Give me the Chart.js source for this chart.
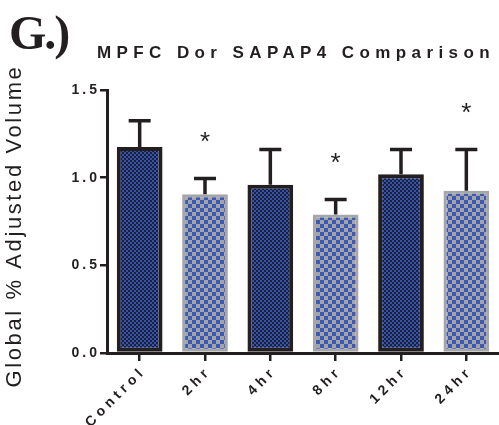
<!DOCTYPE html>
<html>
<head>
<meta charset="utf-8">
<script src="https://cdn.jsdelivr.net/npm/chart.js@4.4.1/dist/chart.umd.min.js"></script>
<style>
  body { margin: 0; background: #fff; }
  canvas { display: block; }
</style>
</head>
<body>
<canvas id="myChart" width="499" height="425"></canvas>
<script>
// data
const groups = ['Control', '2hr', '4hr', '8hr', '12hr', '24hr'];
const means = [1.175, 0.905, 0.96, 0.79, 1.02, 0.925];
const sem = [0.15, 0.09, 0.20, 0.085, 0.14, 0.235];
const sig = [false, true, false, true, false, true];
const yTicks = [0, 0.5, 1.0, 1.5];

const ink = '#231f20';

// checker fills
function checker(c1, c2, s) {
  const cv = document.createElement('canvas');
  cv.width = cv.height = s * 2;
  const g = cv.getContext('2d');
  g.fillStyle = c1; g.fillRect(0, 0, s * 2, s * 2);
  g.fillStyle = c2; g.fillRect(0, 0, s, s); g.fillRect(s, s, s, s);
  return g.createPattern(cv, 'repeat');
}
const darkFill = checker('#1e2036', '#3352ae', 2);
const lightFill = checker('#a4a4a8', '#3a5ab6', 4);

const fills = groups.map((g, i) => i % 2 ? lightFill : darkFill);
const borders = groups.map((g, i) => i % 2 ? '#a6a6a9' : ink);
const bw = groups.map((g, i) => i % 2 ? 3 : 4);

//text, error bars and stars
const decor = {
  id: 'decor',
  afterDatasetsDraw(chart) {
    const ctx = chart.ctx;
    const y = chart.scales.y;
    const meta = chart.getDatasetMeta(0);
    ctx.save();
    ctx.strokeStyle = ink;
    ctx.fillStyle = ink;
    ctx.lineWidth = 3.5;
    ctx.font = '26px "Liberation Sans"';
    ctx.textAlign = 'center';
    ctx.textBaseline = 'middle';
    meta.data.forEach((bar, i) => {
      const top = y.getPixelForValue(means[i] + sem[i]);
      ctx.beginPath();
      ctx.moveTo(bar.x, bar.y);
      ctx.lineTo(bar.x, top);
      ctx.moveTo(bar.x - 11, top);
      ctx.lineTo(bar.x + 11, top);
      ctx.stroke();
      if (sig[i]) {
        ctx.fillText('*', bar.x, top - 36);
      }
    });
    ctx.restore();
  },
  afterDraw(chart) {
    const ctx = chart.ctx;
    const x = chart.scales.x, y = chart.scales.y;
    ctx.save();
    ctx.fillStyle = ink;

    // panel letter
    ctx.font = 'bold 48px "Liberation Serif"';
    ctx.letterSpacing = '-2px';
    ctx.textAlign = 'left';
    ctx.textBaseline = 'alphabetic';
    ctx.fillText('G.)', 9, 49);

    // title
    ctx.font = 'bold 17px "Liberation Sans"';
    ctx.letterSpacing = '5.4px';
    ctx.textBaseline = 'middle';
    ctx.fillText('MPFC Dor SAPAP4 Comparison', 97, 53);

    // y title
    ctx.save();
    ctx.translate(15, 226);
    ctx.rotate(-Math.PI / 2);
    ctx.font = '22px "Liberation Sans"';
    ctx.letterSpacing = '2.6px';
    ctx.textAlign = 'center';
    ctx.fillText('Global % Adjusted Volume', 0, 0);
    ctx.restore();

    // y tick labels
    ctx.font = 'bold 14px "Liberation Sans"';
    ctx.letterSpacing = '3px';
    ctx.textAlign = 'right';
    yTicks.forEach(v => {
      ctx.fillText(v.toFixed(1), 100, y.getPixelForValue(v));
    });

    // x labels
    ctx.font = 'bold 14px "Liberation Sans"';
    ctx.letterSpacing = '4.2px';
    groups.forEach((g, i) => {
      const px = x.getPixelForValue(i);
      ctx.save();
      ctx.translate(px + 4, 369);
      ctx.rotate(-Math.PI / 4);
      ctx.textAlign = 'right';
      ctx.fillText(g, 0, 0);
      ctx.restore();
    });
    ctx.restore();
  }
};

const ctx = document.getElementById('myChart');

new Chart(ctx, {
  type: 'bar',
  data: {
    labels: groups,
    datasets: [{
      data: means,
      backgroundColor: fills,
      borderColor: borders,
      borderWidth: bw,
      borderSkipped: false,
      categoryPercentage: 1,
      barPercentage: 0.7
    }]
  },
  options: {
    responsive: false,
    animation: false,
    devicePixelRatio: 1,
    layout: { autoPadding: false, padding: { top: 90, right: 0, left: 0, bottom: 0 } },
    plugins: { legend: { display: false }, tooltip: { enabled: false } },
    scales: {
      x: {
        afterFit(s) { s.height = 72; },
        ticks: { display: false },
        grid: { offset: false, drawOnChartArea: false, color: ink, lineWidth: 2.5, tickLength: 8 },
        border: { color: ink, width: 3 }
      },
      y: {
        min: 0,
        max: 1.5,
        afterFit(s) { s.width = 107; },
        ticks: { display: false, stepSize: 0.5 },
        grid: { drawOnChartArea: false, color: ink, lineWidth: 2.5, tickLength: 7 },
        border: { color: ink, width: 3 }
      }
    }
  },
  plugins: [decor]
});
</script>
</body>
</html>
